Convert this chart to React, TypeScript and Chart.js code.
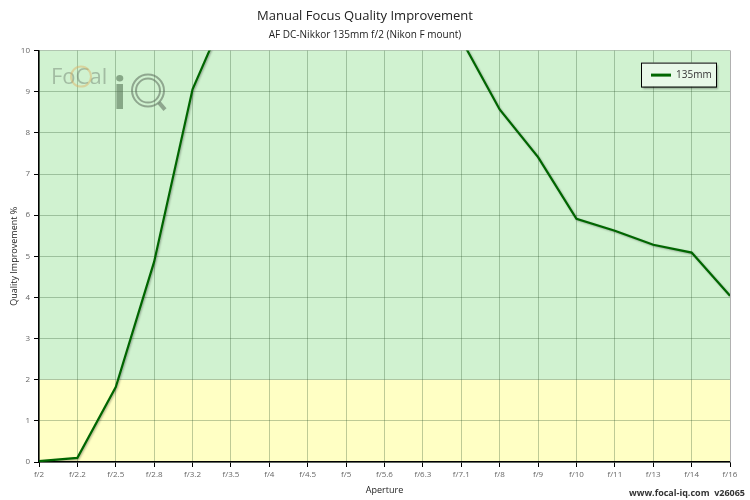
import React, { useEffect, useRef } from "react";
import { Chart, registerables } from "chart.js";

Chart.register(...registerables);

const apertures = ["f/2", "f/2.2", "f/2.5", "f/2.8", "f/3.2", "f/3.5", "f/4", "f/4.5", "f/5", "f/5.6", "f/6.3", "f/7.1", "f/8", "f/9", "f/10", "f/11", "f/13", "f/14", "f/16"];
const improvement135 = [0.02, 0.1, 1.82, 4.87, 9.06, 11.2, 12.0, 12.5, 12.6, 12.3, 11.6, 10.27, 8.57, 7.41, 5.91, 5.62, 5.28, 5.09, 4.04];
const yTicks = [0, 1, 2, 3, 4, 5, 6, 7, 8, 9, 10];
const seriesLabel = "135mm";
const titleText = "Manual Focus Quality Improvement";
const subtitleText = "AF DC-Nikkor 135mm f/2 (Nikon F mount)";
const xTitle = "Aperture";
const yTitle = "Quality Improvement %";
const footerText = "www.focal-iq.com  v26065";
const goodThreshold = 2;

const FONT = "'Open Sans', 'DejaVu Sans', sans-serif";

const bandsPlugin = {
  id: "bands",
  beforeDraw(chart: any) {
    const { ctx, chartArea, scales } = chart;
    const y = scales.y;
    const yT = y.getPixelForValue(goodThreshold);
    ctx.save();
    ctx.fillStyle = "#d0f2d0";
    ctx.fillRect(chartArea.left, chartArea.top, chartArea.right - chartArea.left, yT - chartArea.top);
    ctx.fillStyle = "#ffffc4";
    ctx.fillRect(chartArea.left, yT, chartArea.right - chartArea.left, chartArea.bottom - yT);
    ctx.restore();
  },
  afterDraw(chart: any) {
    const { ctx, chartArea } = chart;
    ctx.save();
    // footer
    ctx.font = `bold 9px ${FONT}`;
    ctx.fillStyle = "#333";
    ctx.textAlign = "right";
    ctx.textBaseline = "middle";
    ctx.fillText(footerText, chart.width - 5, chart.height - 7);
    // right border
    ctx.strokeStyle = "#b0b0b0";
    ctx.lineWidth = 1;
    ctx.beginPath();
    ctx.moveTo(chartArea.right + 0.5, chartArea.top);
    ctx.lineTo(chartArea.right + 0.5, chartArea.bottom);
    ctx.stroke();
    // legend
    const ds = chart.data.datasets[0];
    const bw = 75, bh = 24;
    const bx = chartArea.right - 89, by = chartArea.top + 12;
    ctx.shadowColor = "rgba(0,0,0,0.3)";
    ctx.shadowOffsetX = 2;
    ctx.shadowOffsetY = 2;
    ctx.shadowBlur = 2;
    ctx.fillStyle = "#e8f8e8";
    ctx.fillRect(bx, by, bw, bh);
    ctx.shadowColor = "transparent";
    ctx.strokeStyle = "#000";
    ctx.lineWidth = 1;
    ctx.strokeRect(bx + 0.5, by + 0.5, bw, bh);
    ctx.strokeStyle = ds.borderColor;
    ctx.lineWidth = 3;
    ctx.beginPath();
    ctx.moveTo(bx + 10, by + bh / 2 + 0.5);
    ctx.lineTo(bx + 30, by + bh / 2 + 0.5);
    ctx.stroke();
    ctx.font = `10px ${FONT}`;
    ctx.fillStyle = "#333";
    ctx.textAlign = "left";
    ctx.fillText(ds.label, bx + 35, by + bh / 2 + 1);
    ctx.restore();
  },
  beforeDatasetsDraw(chart: any) {
    const { ctx, chartArea } = chart;
    // watermark logo
    ctx.save();
    ctx.globalAlpha = 0.45;
    ctx.fillStyle = "#6a7a6a";
    ctx.font = `22px ${FONT}`;
    ctx.textBaseline = "alphabetic";
    ctx.textAlign = "left";
    ctx.fillText("FoCal", chartArea.left + 12, chartArea.top + 33);
    ctx.strokeStyle = "#e0b060";
    ctx.lineWidth = 2;
    ctx.beginPath();
    ctx.arc(chartArea.left + 42, chartArea.top + 26, 10, 0, Math.PI * 2);
    ctx.stroke();
    ctx.globalAlpha = 0.55;
    ctx.fillStyle = "#4a6a4a";
    ctx.font = `bold 44px ${FONT}`;
    ctx.fillText("i", chartArea.left + 74, chartArea.top + 58);
    ctx.strokeStyle = "#5a6a5a";
    ctx.lineWidth = 2;
    ctx.beginPath();
    ctx.arc(chartArea.left + 109, chartArea.top + 40, 16, 0, Math.PI * 2);
    ctx.stroke();
    ctx.beginPath();
    ctx.arc(chartArea.left + 109, chartArea.top + 40, 12, 0, Math.PI * 2);
    ctx.stroke();
    ctx.beginPath();
    ctx.moveTo(chartArea.left + 120, chartArea.top + 52);
    ctx.lineTo(chartArea.left + 126, chartArea.top + 59);
    ctx.lineWidth = 4;
    ctx.stroke();
    ctx.restore();
  },
  beforeDatasetDraw(chart: any) {
    const ctx = chart.ctx;
    ctx.save();
    ctx.shadowColor = "rgba(0,0,0,0.3)";
    ctx.shadowOffsetX = 1;
    ctx.shadowOffsetY = 1;
    ctx.shadowBlur = 2;
  },
  afterDatasetDraw(chart: any) {
    chart.ctx.restore();
  },
};

export default function App() {
  const ref = useRef<HTMLCanvasElement | null>(null);
  useEffect(() => {
    document.body.style.margin = "0";
    const canvas = ref.current!;
    const chart = new Chart(canvas, {
      type: "line",
      data: {
        labels: apertures,
        datasets: [
          {
            label: seriesLabel,
            data: improvement135,
            borderColor: "#006600",
            borderWidth: 2.2,
            pointRadius: 0,
            tension: 0,
            fill: false,
          },
        ],
      },
      options: {
        animation: false,
        responsive: false,
        layout: { padding: { left: 0, right: 20, top: 0, bottom: 0 } },
        plugins: {
          legend: { display: false },
          tooltip: { enabled: false },
          title: {
            display: true,
            text: titleText,
            color: "#222",
            font: { family: FONT, size: 13, weight: "normal" },
            padding: { top: 8, bottom: 5 },
          },
          subtitle: {
            display: true,
            text: subtitleText,
            color: "#222",
            font: { family: FONT, size: 10, weight: "normal" },
            padding: { top: 1, bottom: 9 },
          },
        },
        scales: {
          x: {
            type: "category",
            offset: false,
            grid: {
              color: "rgba(40,80,40,0.3)",
              drawTicks: true,
              tickLength: 5,
              tickColor: "#000",
            },
            border: { color: "#000", width: 1.5 },
            ticks: {
              color: "#666",
              font: { family: FONT, size: 8 },
              maxRotation: 0,
              autoSkip: false,
              padding: 3,
            },
            title: {
              display: true,
              text: xTitle,
              color: "#222",
              font: { family: FONT, size: 9 },
              padding: { top: 2, bottom: 4 },
            },
            afterFit(scale: any) {
              scale.height = 38;
            },
          },
          y: {
            min: 0,
            max: 10,
            afterBuildTicks(scale: any) {
              scale.ticks = yTicks.map((v) => ({ value: v }));
            },
            grid: {
              color: "rgba(40,80,40,0.3)",
              tickLength: 5,
              tickColor: "#000",
            },
            border: { color: "#000", width: 1.5 },
            ticks: {
              color: "#666",
              font: { family: FONT, size: 8 },
              padding: 4,
            },
            title: {
              display: true,
              text: yTitle,
              color: "#222",
              font: { family: FONT, size: 9 },
              padding: { top: 9, bottom: 2 },
            },
            afterFit(scale: any) {
              scale.width = 39;
            },
          },
        },
      } as any,
      plugins: [bandsPlugin],
    });
    return () => chart.destroy();
  }, []);
  return <canvas ref={ref} width={750} height={500} style={{ display: "block" }} />;
}
